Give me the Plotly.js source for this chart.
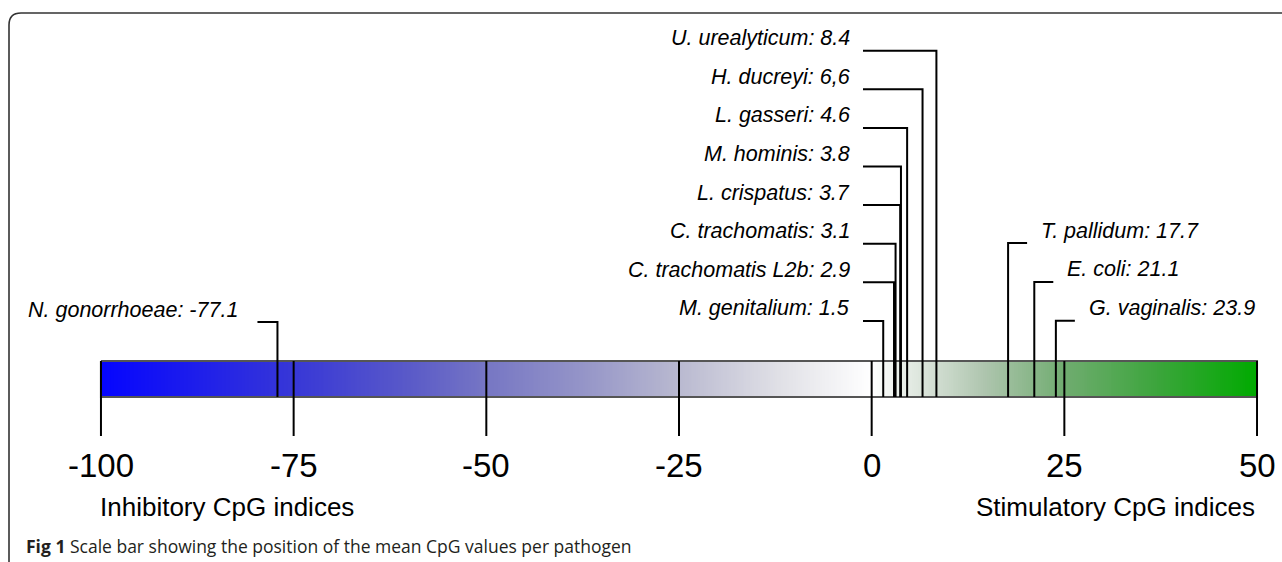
<!DOCTYPE html>
<html>
<head>
<meta charset="utf-8">
<script src="https://cdn.plot.ly/plotly-3.0.1.min.js"></script>
<style>
  html, body { margin: 0; padding: 0; background: #ffffff; }
  #chart { width: 1282px; height: 562px; }
</style>
</head>
<body>
<div id="chart"></div>
<script>
// ---------------- DATA ----------------
const pathogens = ["U. urealyticum", "H. ducreyi", "L. gasseri", "M. hominis", "L. crispatus",
                   "C. trachomatis", "C. trachomatis L2b", "M. genitalium",
                   "T. pallidum", "E. coli", "G. vaginalis", "N. gonorrhoeae"];
const cpgValues = [8.4, 6.6, 4.6, 3.8, 3.7, 3.1, 2.9, 1.5, 17.7, 21.1, 23.9, -77.1];
const valueLabels = ["8.4", "6,6", "4.6", "3.8", "3.7", "3.1", "2.9", "1.5", "17.7", "21.1", "23.9", "-77.1"];
const labelGroup = ["stack", "stack", "stack", "stack", "stack", "stack", "stack", "stack",
                    "right", "right", "right", "left"];
const scaleTicks = [-100, -75, -50, -25, 0, 25, 50];
const scaleTickLabels = ["-100", "-75", "-50", "-25", "0", "25", "50"];
const sideLabels = ["Inhibitory CpG indices", "Stimulatory CpG indices"];
const captionBold = "Fig 1";
const captionText = "Scale bar showing the position of the mean CpG values per pathogen";
// gradient colour stops (CpG index -> colour)
const gradientStops = [-100, -75, -60, -50, -37, -25, -12, 0, 10, 15, 25, 37, 50];
const gradientColors = ["rgb(5,5,255)", "rgb(55,55,215)", "rgb(90,90,200)", "rgb(118,118,196)",
                        "rgb(150,150,200)", "rgb(185,185,208)", "rgb(224,224,230)", "rgb(255,255,255)",
                        "rgb(200,215,200)", "rgb(172,196,172)", "rgb(112,172,112)", "rgb(60,165,60)",
                        "rgb(0,170,0)"];

// ---------------- LAYOUT GEOMETRY ----------------
const W = 1282, H = 562;
const xr = [-113.1, 53.24];
const px2x = p => xr[0] + p / W * (xr[1] - xr[0]);
const x2px = v => (v - xr[0]) / (xr[1] - xr[0]) * W;
const G = {
  barTop: 361, barBottom: 397, tickBottom: 436,
  stackTopY: 50.7, stackStep: 38.6, stackLineStartPx: 863, stackLabelRightPx: 852,
  rightTopY: 243, rightStep: 38.9, rightHoriz: 19, rightLabelGap: 12,
  leftY: 322, leftHoriz: 20, leftLabelGap: 17,
  labelLift: 12.5,
  tickLabelY: 465, sideLabelY: 507, captionY: 546
};

const zmin = Math.min(...scaleTicks), zmax = Math.max(...scaleTicks);
const colorscale = gradientStops.map((s, i) => [(s - zmin) / (zmax - zmin), gradientColors[i]]);

// gradient bar cells
const step = 0.25;
const gx = [];
for (let v = zmin + step / 2; v < zmax; v += step) gx.push(v);
const halfBar = (G.barBottom - G.barTop) / 4;
const gy = [G.barTop + halfBar, G.barBottom - halfBar];

const traces = [];
traces.push({
  type: "heatmap", x: gx, y: gy, z: [gx.slice(), gx.slice()], zmin: zmin, zmax: zmax,
  colorscale: colorscale, showscale: false, hoverinfo: "skip"
});
// bar outline
traces.push({
  type: "scatter", mode: "lines", hoverinfo: "skip", showlegend: false,
  x: [zmin, zmax, zmax, zmin, zmin],
  y: [G.barTop, G.barTop, G.barBottom, G.barBottom, G.barTop],
  line: { color: "#555555", width: 2 }
});
// scale ticks
const tx = [], ty = [];
scaleTicks.forEach(t => { tx.push(t, t, null); ty.push(G.barTop, G.tickBottom, null); });
traces.push({ type: "scatter", mode: "lines", x: tx, y: ty, hoverinfo: "skip", showlegend: false,
  line: { color: "#000000", width: 2 } });

// leader lines and labels
const lx = [], ly = [];
const annotations = [];
const labelFont = { family: "Liberation Sans, Arial, sans-serif", size: 21.5, color: "#000000" };
let si = 0, ri = 0;
pathogens.forEach((name, i) => {
  const v = cpgValues[i];
  const txt = "<i>" + name + ": " + valueLabels[i] + "</i>";
  if (labelGroup[i] === "stack") {
    const y = G.stackTopY + si * G.stackStep; si++;
    lx.push(px2x(G.stackLineStartPx), v, v, null);
    ly.push(y, y, G.barBottom, null);
    annotations.push({ x: px2x(G.stackLabelRightPx), y: y - G.labelLift, xref: "x", yref: "y",
      text: txt, showarrow: false, xanchor: "right", yanchor: "middle", font: labelFont });
  } else if (labelGroup[i] === "right") {
    const y = G.rightTopY + ri * G.rightStep; ri++;
    const endPx = x2px(v) + G.rightHoriz;
    lx.push(v, v, px2x(endPx), null);
    ly.push(G.barBottom, y, y, null);
    annotations.push({ x: px2x(endPx + G.rightLabelGap), y: y - G.labelLift, xref: "x", yref: "y",
      text: txt, showarrow: false, xanchor: "left", yanchor: "middle", font: labelFont });
  } else {
    const y = G.leftY;
    const startPx = x2px(v) - G.leftHoriz;
    lx.push(v, v, px2x(startPx), null);
    ly.push(G.barBottom, y, y, null);
    annotations.push({ x: px2x(startPx - G.leftLabelGap), y: y - G.labelLift, xref: "x", yref: "y",
      text: txt, showarrow: false, xanchor: "right", yanchor: "middle", font: labelFont });
  }
});
traces.push({ type: "scatter", mode: "lines", x: lx, y: ly, hoverinfo: "skip", showlegend: false,
  line: { color: "#000000", width: 2 } });

// tick labels
scaleTicks.forEach((t, i) => {
  annotations.push({ x: t, y: G.tickLabelY, xref: "x", yref: "y", text: scaleTickLabels[i],
    showarrow: false, xanchor: "center", yanchor: "middle",
    font: { family: "Liberation Sans, Arial, sans-serif", size: 33, color: "#000000" } });
});
annotations.push({ x: px2x(x2px(zmin) - 3), y: G.sideLabelY, xref: "x", yref: "y", text: sideLabels[0],
  showarrow: false, xanchor: "left", yanchor: "middle",
  font: { family: "Liberation Sans, Arial, sans-serif", size: 26, color: "#000000" } });
annotations.push({ x: zmax, y: G.sideLabelY, xref: "x", yref: "y", text: sideLabels[1],
  showarrow: false, xanchor: "right", yanchor: "middle",
  font: { family: "Liberation Sans, Arial, sans-serif", size: 26, color: "#000000" } });
// caption
annotations.push({ x: 24 / W, y: G.captionY, xref: "paper", yref: "y",
  text: "<b>" + captionBold + "</b> " + captionText, showarrow: false, xanchor: "left", yanchor: "middle",
  font: { family: "Open Sans, sans-serif", size: 17.5, color: "#231f20" } });

// frame (rounded top-left corner)
const fx = p => p / W;
const framePath = "M " + fx(9) + "," + (H + 5) + " L " + fx(9) + ",25 Q " + fx(9) + ",13 " + fx(21) + ",13 L " + fx(W + 5) + ",13";

const layout = {
  width: W, height: H,
  margin: { l: 0, r: 0, t: 0, b: 0, pad: 0 },
  paper_bgcolor: "#ffffff", plot_bgcolor: "#ffffff",
  showlegend: false,
  xaxis: { range: xr, visible: false, fixedrange: true },
  yaxis: { range: [H, 0], visible: false, fixedrange: true },
  annotations: annotations,
  shapes: [{ type: "path", xref: "paper", yref: "y", path: framePath,
             line: { color: "#333333", width: 1.6 }, layer: "above" }]
};

Plotly.newPlot("chart", traces, layout, { staticPlot: true, displayModeBar: false });
</script>
</body>
</html>
